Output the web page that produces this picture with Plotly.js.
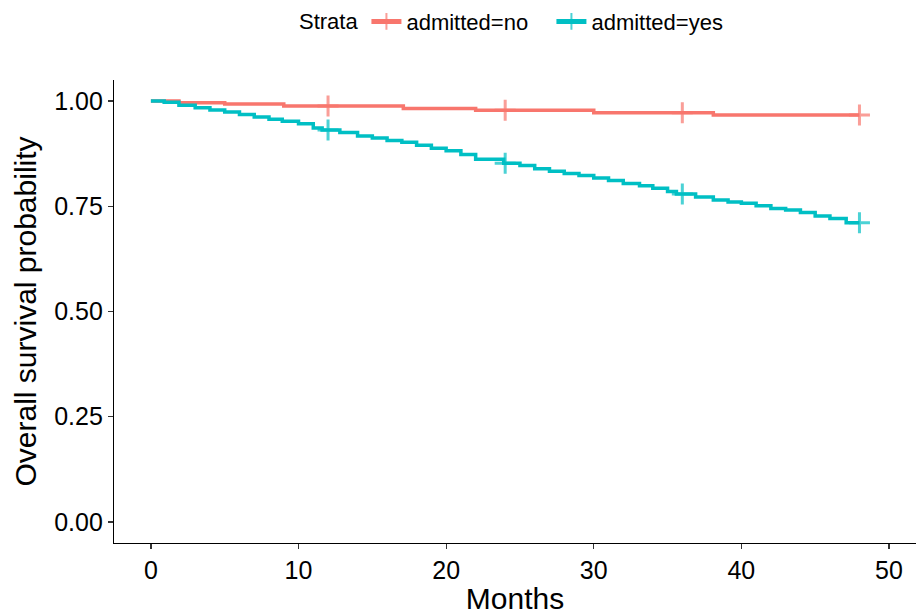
<!DOCTYPE html>
<html>
<head>
<meta charset="utf-8">
<script src="https://cdn.plot.ly/plotly-3.0.1.min.js"></script>
<style>html,body{margin:0;padding:0;background:#fff;}#chart{width:916px;height:615px;}</style>
</head>
<body>
<div id="chart"></div>
<script>
// Kaplan-Meier estimates (months, survival)
const strataNames = ["admitted=no", "admitted=yes"];
const noTime = [0, 1.9, 5.0, 9.0, 12, 17.1, 22.0, 24, 30.0, 36, 38.1, 48];
const noSurv = [1.000, 0.996, 0.993, 0.988, 0.988, 0.982, 0.978, 0.978, 0.972, 0.972, 0.967, 0.967];
const yesTime = [0, 0.9, 1.9, 3.0, 4.0, 5.0, 6.0, 7.0, 8.0, 8.9, 10.0, 11.0, 11.6, 12, 12.8, 14.0, 15.0, 16.0, 17.0, 18.0, 19.0, 20.0, 21.0, 22.0, 23.9, 24, 25.0, 26.0, 27.0, 28.0, 29.0, 30.0, 31.0, 32.0, 33.1, 34.0, 35.0, 35.6, 36, 36.9, 38.1, 39.1, 40.0, 41.0, 42.0, 43.0, 44.0, 45.0, 46.0, 47.1, 48];
const yesSurv = [1.000, 0.997, 0.990, 0.984, 0.979, 0.974, 0.968, 0.962, 0.957, 0.952, 0.946, 0.936, 0.931, 0.931, 0.925, 0.917, 0.912, 0.906, 0.902, 0.895, 0.888, 0.882, 0.873, 0.862, 0.852, 0.852, 0.847, 0.839, 0.833, 0.828, 0.823, 0.817, 0.811, 0.804, 0.799, 0.793, 0.785, 0.779, 0.779, 0.772, 0.765, 0.760, 0.757, 0.751, 0.745, 0.741, 0.735, 0.727, 0.721, 0.711, 0.711];
const censorTimes = [12, 24, 36, 48];
const xTicks = [0, 10, 20, 30, 40, 50];
const yTicks = [0, 0.25, 0.5, 0.75, 1.0];
const yTickText = ["0.00", "0.25", "0.50", "0.75", "1.00"];

const colors = ["#F8766D", "#00BFC4"];
const FONT = "Liberation Sans, Arial, sans-serif";

function kmTrace(name, t, s, color) {
  return {
    type: "scatter", mode: "lines+markers", name: name,
    x: t, y: s,
    line: {shape: "hv", color: color, width: 3.5},
    marker: {
      symbol: "cross-thin",
      size: t.map(v => censorTimes.includes(v) ? 15 : 0),
      color: color,
      line: {color: color, width: 3}
    },
    hoverinfo: "x+y+name"
  };
}

const data = [
  kmTrace(strataNames[0], noTime, noSurv, colors[0]),
  kmTrace(strataNames[1], yesTime, yesSurv, colors[1])
];

const layout = {
  width: 916, height: 615,
  paper_bgcolor: "#fff", plot_bgcolor: "#fff",
  font: {family: FONT, color: "#000"},
  margin: {l: 114, r: 0, t: 80, b: 72},
  showlegend: true,
  legend: {
    orientation: "h", xref: "container", yref: "container",
    x: 0.3242, xanchor: "left", y: 0.999, yanchor: "top",
    font: {size: 22, family: FONT, color: "#000"},
    title: {text: "Strata", side: "left", font: {size: 22, family: FONT, color: "#000"}},
    itemsizing: "constant", bgcolor: "rgba(0,0,0,0)",
    entrywidth: 140, entrywidthmode: "pixels"
  },
  xaxis: {
    range: [-2.5, 51.83], tickvals: xTicks, ticktext: xTicks.map(String),
    showgrid: false, zeroline: false, showline: true, linecolor: "#000", linewidth: 1.2,
    ticks: "outside", ticklen: 5, tickcolor: "#333", tickwidth: 1.2,
    tickfont: {size: 25, family: FONT, color: "#000"},
    title: {text: "Months", font: {size: 30, family: FONT, color: "#000"}, standoff: 8},
    automargin: false
  },
  yaxis: {
    range: [-0.05, 1.05], tickvals: yTicks, ticktext: yTickText,
    showgrid: false, zeroline: false, showline: true, linecolor: "#000", linewidth: 1.2,
    ticks: "outside", ticklen: 5, tickcolor: "#333", tickwidth: 1.2,
    tickfont: {size: 25, family: FONT, color: "#000"},
    title: {text: "Overall survival probability", font: {size: 30, family: FONT, color: "#000"}, standoff: 8},
    automargin: false
  }
};

Plotly.newPlot("chart", data, layout, {displayModeBar: false, staticPlot: true});
</script>
</body>
</html>
